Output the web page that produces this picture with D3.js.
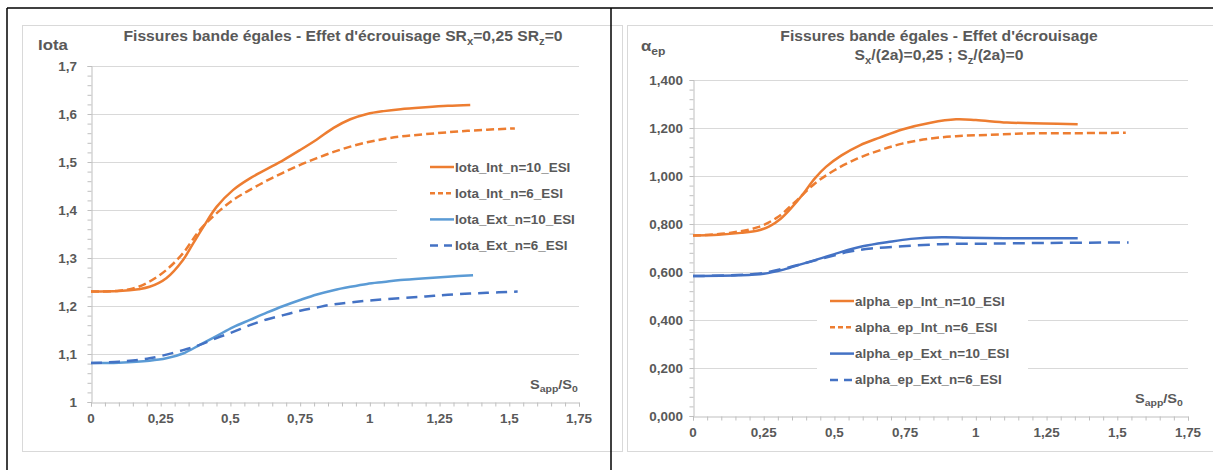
<!DOCTYPE html>
<html><head><meta charset="utf-8">
<script src="https://cdn.jsdelivr.net/npm/d3@7"></script>
<style>
body{margin:0;background:#fff}
svg{display:block}
text{font-family:"Liberation Sans",Arial,sans-serif;font-weight:bold;fill:#595959}
</style>
</head><body>
<svg id="c" width="1213" height="470"></svg>
<script>
// ---------- tick labels ----------
const xTickValues = [0, 0.25, 0.5, 0.75, 1, 1.25, 1.5, 1.75];
const xTickLabels = ["0", "0,25", "0,5", "0,75", "1", "1,25", "1,5", "1,75"];
const iotaTickValues = [1, 1.1, 1.2, 1.3, 1.4, 1.5, 1.6, 1.7];
const iotaTickLabels = ["1", "1,1", "1,2", "1,3", "1,4", "1,5", "1,6", "1,7"];
const alphaTickValues = [0, 0.2, 0.4, 0.6, 0.8, 1.0, 1.2, 1.4];
const alphaTickLabels = ["0,000", "0,200", "0,400", "0,600", "0,800", "1,000", "1,200", "1,400"];

// ---------- left chart : Iota ----------
const iotaInt10X = [0, 0.1, 0.17, 0.21, 0.27, 0.33, 0.367, 0.403, 0.451, 0.51, 0.57, 0.63, 0.69, 0.75, 0.81, 0.87, 0.93, 0.99, 1.05, 1.11, 1.2, 1.28, 1.36];
const iotaInt10Y = [1.23, 1.231, 1.235, 1.24, 1.258, 1.296, 1.331, 1.365, 1.407, 1.442, 1.466, 1.485, 1.504, 1.525, 1.547, 1.571, 1.589, 1.6, 1.606, 1.61, 1.614, 1.617, 1.619];
const iotaInt6X = [0, 0.1, 0.16, 0.21, 0.27, 0.33, 0.39, 0.45, 0.51, 0.57, 0.63, 0.69, 0.75, 0.81, 0.87, 0.93, 0.99, 1.05, 1.11, 1.2, 1.35, 1.52];
const iotaInt6Y = [1.23, 1.232, 1.238, 1.251, 1.275, 1.31, 1.358, 1.393, 1.421, 1.442, 1.461, 1.478, 1.494, 1.508, 1.521, 1.532, 1.541, 1.548, 1.553, 1.558, 1.565, 1.57];
const iotaExt10X = [0, 0.1, 0.21, 0.27, 0.33, 0.39, 0.45, 0.51, 0.57, 0.63, 0.69, 0.75, 0.81, 0.87, 0.93, 0.99, 1.05, 1.11, 1.2, 1.28, 1.37];
const iotaExt10Y = [1.081, 1.082, 1.086, 1.091, 1.101, 1.119, 1.1375, 1.156, 1.171, 1.186, 1.2, 1.2125, 1.224, 1.233, 1.24, 1.246, 1.25, 1.254, 1.258, 1.261, 1.264];
const iotaExt6X = [0, 0.1, 0.21, 0.33, 0.39, 0.45, 0.51, 0.57, 0.63, 0.69, 0.75, 0.81, 0.87, 0.93, 1.01, 1.11, 1.2, 1.28, 1.42, 1.53];
const iotaExt6Y = [1.081, 1.084, 1.091, 1.108, 1.119, 1.133, 1.146, 1.16, 1.172, 1.181, 1.19, 1.197, 1.2035, 1.2075, 1.212, 1.2165, 1.22, 1.2235, 1.2275, 1.23];
const iotaNames = ["Iota_Int_n=10_ESI", "Iota_Int_n=6_ESI", "Iota_Ext_n=10_ESI", "Iota_Ext_n=6_ESI"];

// ---------- right chart : alpha_ep ----------
const alphaInt10X = [0, 0.09, 0.17, 0.23, 0.27, 0.31, 0.35, 0.39, 0.43, 0.47, 0.525, 0.59, 0.66, 0.74, 0.84, 0.93, 1.0, 1.11, 1.24, 1.36];
const alphaInt10Y = [0.752, 0.755, 0.763, 0.773, 0.79, 0.822, 0.87, 0.926, 0.989, 1.038, 1.086, 1.128, 1.16, 1.194, 1.222, 1.236, 1.233, 1.223, 1.219, 1.216];
const alphaInt6X = [0, 0.13, 0.23, 0.3, 0.36, 0.43, 0.5, 0.58, 0.66, 0.74, 0.84, 0.93, 1.04, 1.17, 1.31, 1.53];
const alphaInt6Y = [0.752, 0.763, 0.787, 0.829, 0.891, 0.968, 1.024, 1.072, 1.107, 1.135, 1.156, 1.166, 1.171, 1.177, 1.178, 1.18];
const alphaExt10X = [0, 0.16, 0.25, 0.32, 0.39, 0.46, 0.525, 0.6, 0.69, 0.77, 0.88, 0.97, 1.1, 1.36];
const alphaExt10Y = [0.583, 0.586, 0.593, 0.61, 0.635, 0.66, 0.684, 0.707, 0.725, 0.738, 0.745, 0.743, 0.741, 0.741];
const alphaExt6X = [0, 0.23, 0.32, 0.39, 0.47, 0.55, 0.63, 0.74, 0.88, 1.04, 1.24, 1.54];
const alphaExt6Y = [0.583, 0.593, 0.614, 0.635, 0.66, 0.684, 0.698, 0.707, 0.716, 0.718, 0.721, 0.723];
const alphaNames = ["alpha_ep_Int_n=10_ESI", "alpha_ep_Int_n=6_ESI", "alpha_ep_Ext_n=10_ESI", "alpha_ep_Ext_n=6_ESI"];

const SX = 1.12; // horizontal text stretch seen in the reference
const svg = d3.select("#c");

function addText(parent, x, y, parts, size, anchor) {
  const g = parent.append("g").attr("transform", `translate(${x},${y}) scale(${SX},1)`);
  const t = g.append("text").attr("font-size", size).attr("text-anchor", anchor || "start");
  let shifted = 0;
  parts.forEach(p => {
    const sub = Array.isArray(p);
    const s = sub ? p[0] : p;
    const ts = t.append("tspan").text(s);
    if (sub && !shifted) { ts.attr("dy", size * 0.25).attr("font-size", size * 0.72); shifted = 1; }
    else if (sub) { ts.attr("font-size", size * 0.72); }
    else if (shifted) { ts.attr("dy", -size * 0.25); shifted = 0; }
  });
  return t;
}

// outer table frame
svg.append("line").attr("x1", 7).attr("x2", 1213).attr("y1", 8).attr("y2", 8).attr("stroke", "#000").attr("stroke-width", 1.5);
svg.append("line").attr("x1", 7).attr("x2", 7).attr("y1", 8).attr("y2", 470).attr("stroke", "#000").attr("stroke-width", 1.5);
// chart areas
svg.append("rect").attr("x", 22.5).attr("y", 25.5).attr("width", 600).attr("height", 426).attr("fill", "#fff").attr("stroke", "#d9d9d9");
svg.append("rect").attr("x", 627.5).attr("y", 25.5).attr("width", 600).attr("height", 426).attr("fill", "#fff").attr("stroke", "#d9d9d9");
svg.append("line").attr("x1", 611).attr("x2", 611).attr("y1", 8).attr("y2", 470).attr("stroke", "#000").attr("stroke-width", 1.5);

function chart(cfg) {
  const g = svg.append("g");
  const x = d3.scaleLinear().domain([0, 1.75]).range(cfg.xr);
  const y = d3.scaleLinear().domain(cfg.yd).range(cfg.yr);
  // gridlines
  g.append("g").selectAll("line").data(cfg.yTicks.slice(1)).join("line")
    .attr("x1", x(0)).attr("x2", x(1.75))
    .attr("y1", d => Math.round(y(d)) + 0.5).attr("y2", d => Math.round(y(d)) + 0.5)
    .attr("stroke", "#d9d9d9").attr("stroke-width", 1);
  // legend background
  g.append("rect").attr("x", cfg.legBox[0]).attr("y", cfg.legBox[1]).attr("width", cfg.legBox[2]).attr("height", cfg.legBox[3]).attr("fill", "#fff");
  // axes
  const xAxisY = Math.round(y(cfg.yd[0])) + 0.5;
  const yAxisX = Math.round(x(0)) + 0.5;
  const minorX = g.append("g").attr("transform", `translate(0,${xAxisY})`)
    .call(d3.axisBottom(x).tickValues(d3.range(0, 1.7501, 0.05)).tickSize(4).tickFormat(""));
  const minorY = g.append("g").attr("transform", `translate(${yAxisX},0)`)
    .call(d3.axisLeft(y).tickValues(d3.range(cfg.yd[0], cfg.yd[1] + 1e-6, cfg.minorStep)).tickSize(4).tickFormat(""));
  [minorX, minorY].forEach(a => { a.selectAll("path,line").attr("stroke", "#bfbfbf"); });
  // tick labels
  xTickValues.forEach((v, i) => addText(g, x(v), xAxisY + 20.5, [xTickLabels[i]], 12, "middle"));
  cfg.yTicks.forEach((v, i) => addText(g, x(0) - cfg.yLabGap, y(v) + 4.5, [cfg.yLabels[i]], 12, "end"));
  // axis titles
  addText(g, cfg.xTitle[0], cfg.xTitle[1], ["S", ["app"], "/S", ["0"]], 13, "start");
  addText(g, cfg.yTitle[0], cfg.yTitle[1], cfg.yTitleParts, cfg.yTitleSize, "start");
  cfg.title.forEach(tl => addText(g, tl.x, tl.y, tl.parts, 14, "middle"));
  // series
  const line = d3.line().x(d => x(d[0])).y(d => y(d[1])).curve(d3.curveCatmullRom.alpha(0.5));
  cfg.series.forEach(s => {
    g.append("path").datum(s.xs.map((v, i) => [v, s.ys[i]]))
      .attr("d", line).attr("fill", "none").attr("stroke", s.color).attr("stroke-width", 2.5)
      .attr("stroke-dasharray", s.dash || null);
  });
  // legend
  cfg.series.forEach((s, i) => {
    const ly = cfg.leg[1] + i * cfg.leg[2];
    g.append("line").attr("x1", cfg.leg[0]).attr("x2", cfg.leg[0] + 24).attr("y1", ly).attr("y2", ly)
      .attr("stroke", s.color).attr("stroke-width", 2.5).attr("stroke-dasharray", s.legDash || null);
    addText(g, cfg.leg[0] + 25, ly + 4.5, [cfg.names[i]], 12, "start");
  });
}

chart({
  xr: [91, 579], yd: [1, 1.7], yr: [402, 66],
  yTicks: iotaTickValues, yLabels: iotaTickLabels, minorStep: 0.02, yLabGap: 14,
  xTitle: [530, 389], yTitle: [38, 50], yTitleParts: ["Iota"], yTitleSize: 15,
  title: [{ x: 343, y: 41, parts: ["Fissures bande égales - Effet d'écrouisage SR", ["x"], "=0,25 SR", ["z"], "=0"] }],
  legBox: [397, 140, 182, 123], leg: [430, 167, 26.2], names: iotaNames,
  series: [
    { xs: iotaInt10X, ys: iotaInt10Y, color: "#ed7d31" },
    { xs: iotaInt6X, ys: iotaInt6Y, color: "#ed7d31", dash: "8,4", legDash: "5,3" },
    { xs: iotaExt10X, ys: iotaExt10Y, color: "#5b9bd5" },
    { xs: iotaExt6X, ys: iotaExt6Y, color: "#4472c4", dash: "11,7", legDash: "8,6" }
  ]
});

chart({
  xr: [693, 1188], yd: [0, 1.4], yr: [416, 80],
  yTicks: alphaTickValues, yLabels: alphaTickLabels, minorStep: 0.04, yLabGap: 10,
  xTitle: [1135, 403], yTitle: [641, 51], yTitleParts: ["α", ["ep"]], yTitleSize: 15,
  title: [
    { x: 939, y: 41, parts: ["Fissures bande égales - Effet d'écrouisage"] },
    { x: 939, y: 60, parts: ["S", ["x"], "/(2a)=0,25 ; S", ["z"], "/(2a)=0"] }
  ],
  legBox: [817, 284, 211, 110], leg: [830, 301, 26.3], names: alphaNames,
  series: [
    { xs: alphaInt10X, ys: alphaInt10Y, color: "#ed7d31" },
    { xs: alphaInt6X, ys: alphaInt6Y, color: "#ed7d31", dash: "8,4", legDash: "5,3" },
    { xs: alphaExt10X, ys: alphaExt10Y, color: "#4472c4" },
    { xs: alphaExt6X, ys: alphaExt6Y, color: "#4472c4", dash: "12,7", legDash: "8,6" }
  ]
});
</script>
</body></html>
